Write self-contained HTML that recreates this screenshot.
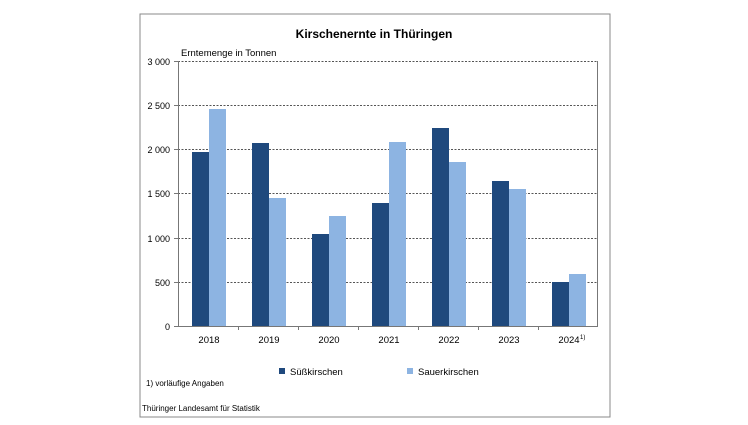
<!DOCTYPE html>
<html><head><meta charset="utf-8"><style>
body{margin:0;background:#fff;width:748px;height:420px;overflow:hidden}
text{font-family:"Liberation Sans",sans-serif;fill:#000}
</style></head><body>
<svg width="748" height="420" xmlns="http://www.w3.org/2000/svg">
<rect x="140" y="14" width="470" height="403" fill="#fff" stroke="#888" stroke-width="1"/>
<text x="374" y="38" font-size="12" font-weight="bold" text-anchor="middle">Kirschenernte in Thüringen</text>
<text x="181" y="56" font-size="9.5">Erntemenge in Tonnen</text>
<g stroke="#555" stroke-width="1" stroke-dasharray="2,1.5">
<line x1="178" y1="61.5" x2="598" y2="61.5"/>
<line x1="178" y1="105.5" x2="598" y2="105.5"/>
<line x1="178" y1="149.5" x2="598" y2="149.5"/>
<line x1="178" y1="193.5" x2="598" y2="193.5"/>
<line x1="178" y1="238.5" x2="598" y2="238.5"/>
<line x1="178" y1="282.5" x2="598" y2="282.5"/>
</g>
<g font-size="9" text-anchor="end">
<text x="170" y="65">3 000</text><text x="170" y="109">2 500</text><text x="170" y="153">2 000</text>
<text x="170" y="197">1 500</text><text x="170" y="242">1 000</text><text x="170" y="286">500</text><text x="170" y="330">0</text>
</g>
<g fill="#1f497d">
<rect x="192" y="152" width="17" height="174"/>
<rect x="252" y="143" width="17" height="183"/>
<rect x="312" y="234" width="17" height="92"/>
<rect x="372" y="203" width="17" height="123"/>
<rect x="432" y="128" width="17" height="198"/>
<rect x="492" y="181" width="17" height="145"/>
<rect x="552" y="282" width="17" height="44"/>
</g>
<g fill="#8db4e2">
<rect x="209" y="109" width="17" height="217"/>
<rect x="269" y="198" width="17" height="128"/>
<rect x="329" y="216" width="17" height="110"/>
<rect x="389" y="142" width="17" height="184"/>
<rect x="449" y="162" width="17" height="164"/>
<rect x="509" y="189" width="17" height="137"/>
<rect x="569" y="274" width="17" height="52"/>
</g>
<g stroke="#777" stroke-width="1">
<line x1="178.5" y1="61" x2="178.5" y2="326"/>
<line x1="597.5" y1="61" x2="597.5" y2="326"/>
<line x1="174" y1="326.5" x2="598" y2="326.5"/>
<line x1="174" y1="61.5" x2="178" y2="61.5"/><line x1="174" y1="105.5" x2="178" y2="105.5"/>
<line x1="174" y1="149.5" x2="178" y2="149.5"/><line x1="174" y1="193.5" x2="178" y2="193.5"/>
<line x1="174" y1="238.5" x2="178" y2="238.5"/><line x1="174" y1="282.5" x2="178" y2="282.5"/>
<line x1="238.5" y1="326" x2="238.5" y2="330"/><line x1="298.5" y1="326" x2="298.5" y2="330"/>
<line x1="358.5" y1="326" x2="358.5" y2="330"/><line x1="418.5" y1="326" x2="418.5" y2="330"/>
<line x1="478.5" y1="326" x2="478.5" y2="330"/><line x1="538.5" y1="326" x2="538.5" y2="330"/>
</g>
<g font-size="9.5" text-anchor="middle">
<text x="209" y="343">2018</text><text x="269" y="343">2019</text><text x="329" y="343">2020</text>
<text x="389" y="343">2021</text><text x="449" y="343">2022</text><text x="509" y="343">2023</text>
<text x="569" y="343">2024</text>
</g>
<text x="580" y="339" font-size="6">1)</text>
<rect x="279" y="368" width="6" height="6" fill="#1f497d"/>
<text x="290" y="375" font-size="9.5">Süßkirschen</text>
<rect x="407" y="368" width="6" height="6" fill="#8db4e2"/>
<text x="418" y="375" font-size="9.5">Sauerkirschen</text>
<text x="146" y="386" font-size="8">1) vorläufige Angaben</text>
<text x="142" y="411" font-size="8">Thüringer Landesamt für Statistik</text>
</svg>
</body></html>
